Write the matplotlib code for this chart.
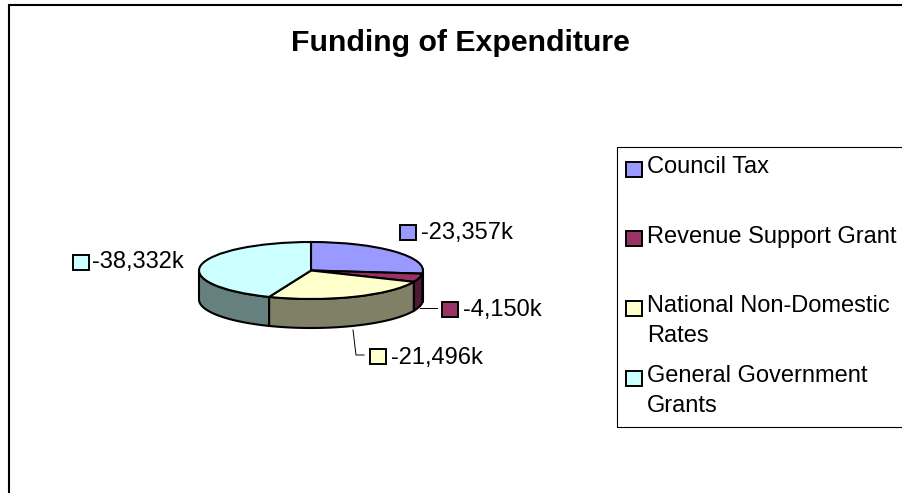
import numpy as np
import matplotlib
matplotlib.use("Agg")
import matplotlib.pyplot as plt
from matplotlib.patches import Rectangle

plt.rcParams['font.family'] = ['Liberation Sans', 'DejaVu Sans']

title = "Funding of Expenditure"
categories = ["Council Tax", "Revenue Support Grant", "National Non-Domestic\nRates", "General Government\nGrants"]
values = [23357, 4150, 21496, 38332]
value_labels = ["-23,357k", "-4,150k", "-21,496k", "-38,332k"]
top_colors = ["#9999FF", "#993366", "#FFFFCC", "#CCFFFF"]
side_colors = ["#4C4C80", "#4D1933", "#808066", "#668080"]

W, H = 902, 493
fig = plt.figure(figsize=(W / 100, H / 100), dpi=100)

# pixel overlay
ov = fig.add_axes([0, 0, 1, 1], zorder=3)
ov.set_xlim(0, W); ov.set_ylim(H, 0); ov.axis('off'); ov.patch.set_alpha(0)

# pie axes: unit circle maps to the ellipse
cx, cy, rx, ry, depth = 311, 270.5, 112, 28.5, 29
ax_left = cx - 1.25 * rx
ax_w = 2.5 * rx
y_top = 1.25
y_bot = -1.25 - depth / ry
ax_h = (y_top - y_bot) * ry
ax_topy = cy - y_top * ry
pie_ax = fig.add_axes([ax_left / W, 1 - (ax_topy + ax_h) / H, ax_w / W, ax_h / H], zorder=2)
pie_ax.pie(values, colors=top_colors, startangle=90, counterclock=False, radius=1,
           wedgeprops=dict(edgecolor='black', linewidth=1.5, zorder=5), normalize=True)
pie_ax.set_aspect('auto')
pie_ax.set_xlim(-1.25, 1.25)
pie_ax.set_ylim(y_bot, y_top)
pie_ax.axis('off')

# side wall
d = depth / ry
edges = np.cumsum([0] + values) / sum(values) * 360
for i in range(len(values)):
    a, b = max(edges[i], 90), min(edges[i + 1], 270)
    if b <= a:
        continue
    t = np.radians(np.linspace(a, b, 60))
    xs, ys = np.sin(t), np.cos(t)
    pie_ax.fill(np.r_[xs, xs[::-1]], np.r_[ys, ys[::-1] - d],
                facecolor=side_colors[i], edgecolor='black', linewidth=1.5, zorder=3)

# frame
ov.plot([9, 9, W], [H, 5, 5], color='black', lw=1.5, solid_capstyle='butt', solid_joinstyle='miter')

# title
ov.text(460, 43, title, ha='center', va='center', fontsize=21.8, fontweight='bold', color='black')

# legend
ov.plot([W, 616.5, 616.5, W], [146.5, 146.5, 426.5, 426.5], color='black', lw=0.8)
leg_sw_y = [169, 238, 308, 378]
leg_txt_y = [167, 237, 321, 391]
for c, lab, sy, ty in zip(top_colors, categories, leg_sw_y, leg_txt_y):
    ov.add_patch(Rectangle((626, sy - 7.5), 15.5, 15, facecolor=c, edgecolor='black', lw=1.4))
    ov.text(647, ty, lab, ha='left', va='center', fontsize=17, color='black', linespacing=1.46)

# data labels
lab_sw = [(400, 232), (442, 309.5), (370, 356.5), (73, 262.5)]
lab_tx = [(421, 233), (463, 310), (391, 358), (92, 262)]
for c, lab, (sx, sy), (tx, ty) in zip(top_colors, value_labels, lab_sw, lab_tx):
    ov.add_patch(Rectangle((sx, sy - 7.5), 15.5, 15, facecolor=c, edgecolor='black', lw=1.4))
    ov.text(tx, ty, lab, ha='left', va='center', fontsize=17, color='black')

# leader lines
ov.plot([420, 437], [308, 308], color='black', lw=0.7)
ov.plot([353, 356, 364], [330, 355, 355], color='black', lw=0.7)

fig.savefig("out.png", dpi=100, facecolor='white')
